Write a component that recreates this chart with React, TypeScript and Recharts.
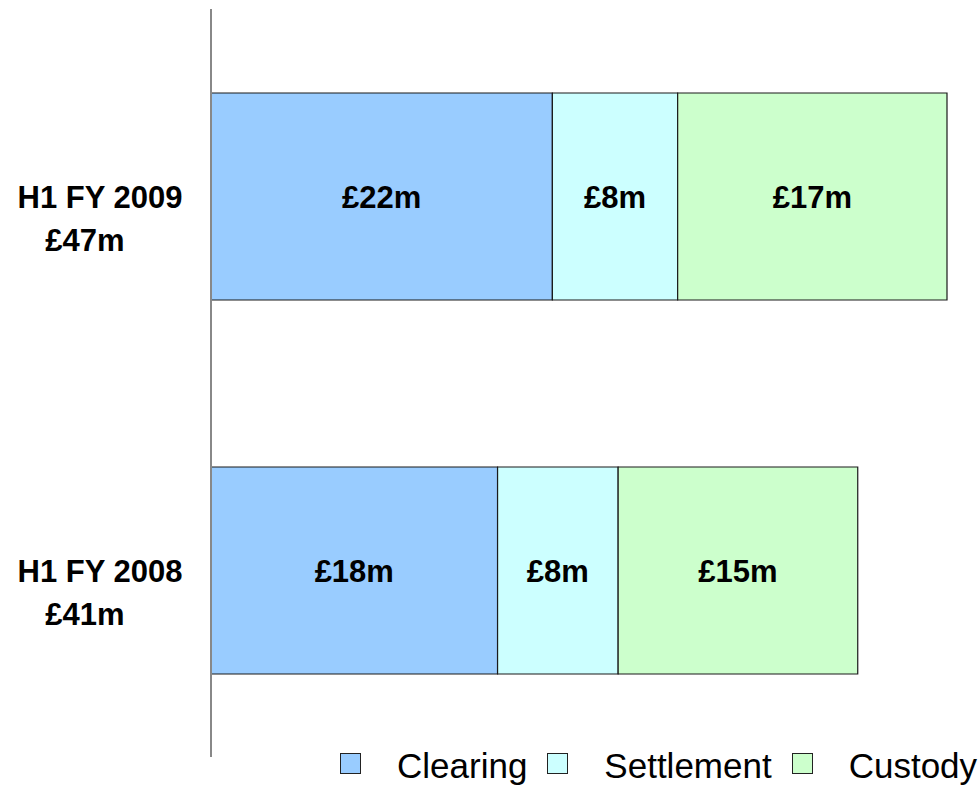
import { BarChart, Bar, XAxis, YAxis, LabelList } from "recharts";

const categories = ["H1 FY 2009", "H1 FY 2008"];
const totals = ["£47m", "£41m"];
const seriesNames = ["Clearing", "Settlement", "Custody"];
const clearing = [21.8, 18.3];
const settlement = [8.0, 7.7];
const custody = [17.2, 15.3];
const clearingLabels = ["£22m", "£18m"];
const settlementLabels = ["£8m", "£8m"];
const custodyLabels = ["£17m", "£15m"];

const colors = ["#99CCFF", "#CCFFFF", "#CCFFCC"];
const FONT = "'Liberation Sans', Arial, sans-serif";

const data = categories.map((c, i) => ({
  category: c,
  total: totals[i],
  clearing: clearing[i],
  settlement: settlement[i],
  custody: custody[i],
  clearingLabel: clearingLabels[i],
  settlementLabel: settlementLabels[i],
  custodyLabel: custodyLabels[i],
}));

interface TickProps {
  y?: number;
  payload?: { value: string; index: number };
}

function CategoryTick({ y = 0, payload }: TickProps) {
  const i = categories.indexOf(payload?.value ?? "");
  return (
    <g fontFamily={FONT} fontWeight="bold" fontSize={31} fill="#000">
      <text x={100} y={y + 12} textAnchor="middle">
        {payload?.value}
      </text>
      <text x={85} y={y + 55} textAnchor="middle">
        {totals[i]}
      </text>
    </g>
  );
}

const keys = ["clearing", "settlement", "custody"];

export default function App() {
  return (
    <div style={{ position: "absolute", left: 0, top: 0, width: 980, height: 785, background: "#fff" }}>
      <BarChart
        width={980}
        height={785}
        data={data}
        layout="vertical"
        margin={{ top: 9, right: 33, left: 0, bottom: 28 }}
      >
        <XAxis type="number" domain={[0, 47]} hide />
        <YAxis
          type="category"
          dataKey="category"
          width={211}
          axisLine={{ stroke: "#888", strokeWidth: 2 }}
          tickLine={false}
          tick={<CategoryTick />}
        />
        {keys.map((k, i) => (
          <Bar
            key={k}
            dataKey={k}
            stackId="a"
            fill={colors[i]}
            stroke="#1a1a1a"
            strokeWidth={1.2}
            barSize={207}
            isAnimationActive={false}
          >
            <LabelList
              dataKey={k + "Label"}
              position="center"
              fill="#000"
              fontSize={31}
              fontWeight="bold"
              fontFamily={FONT}
            />
          </Bar>
        ))}
      </BarChart>
      <div
        style={{
          position: "absolute",
          left: 340,
          top: 748,
          display: "flex",
          alignItems: "flex-start",
          fontFamily: FONT,
          fontSize: 35,
          lineHeight: "35px",
          color: "#000",
          whiteSpace: "nowrap",
        }}
      >
        {seriesNames.map((n, i) => (
          <div key={n} style={{ display: "flex", alignItems: "flex-start" }}>
            <span
              style={{
                display: "block",
                boxSizing: "border-box",
                width: 21,
                height: 21,
                marginTop: 5,
                marginRight: 36,
                background: colors[i],
                border: "1.5px solid #222",
              }}
            />
            <span style={{ marginRight: 20 }}>{n}</span>
          </div>
        ))}
      </div>
    </div>
  );
}
